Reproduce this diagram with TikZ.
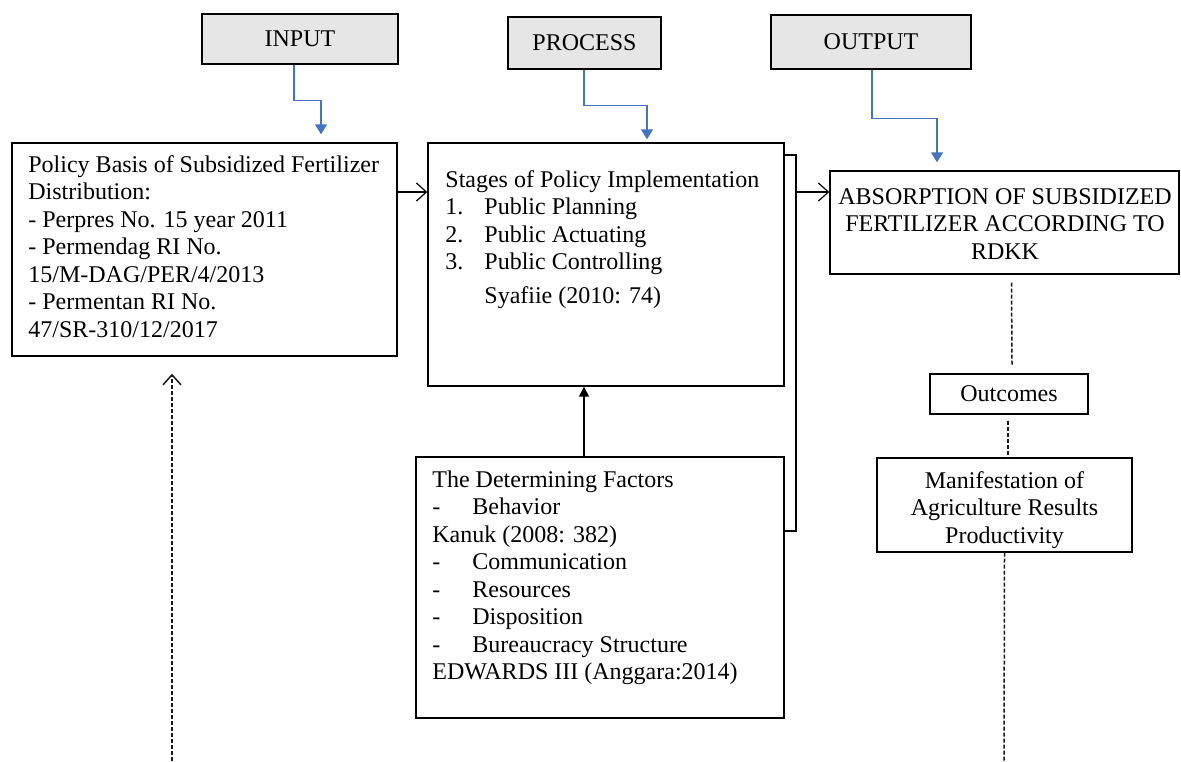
\documentclass[tikz,border=0pt]{standalone}
\usepackage{fontspec}
\setmainfont{Liberation Serif}
\usetikzlibrary{arrows.meta}
\definecolor{hdrgray}{RGB}{231,230,230}
\definecolor{conblue}{RGB}{68,114,196}
\tikzset{
  box/.style={draw=black, line width=0.7pt, inner sep=0pt, font=\fontsize{12}{13.75}\selectfont},
  hdr/.style={box, fill=hdrgray},
  txt/.style={inner sep=0pt, font=\fontsize{12}{13.75}\selectfont},
  blueconn/.style={draw=conblue, line width=0.7pt, -{Triangle[width=6pt,length=5pt]}},
  openarr/.style={-{Straight Barb[length=5pt,width=9pt]}, line width=0.6pt},
  solidarr/.style={-{Triangle[width=5pt,length=5pt]}, line width=0.7pt},
  dotline/.style={dash pattern=on 2pt off 1pt, line width=0.75pt, draw=black!90},
}
\begin{document}
\begin{tikzpicture}[x=0.5pt, y=-0.5pt]
\useasboundingbox (0,0) rectangle (1181,761);
% header boxes
\node[hdr, minimum width=98pt, minimum height=25pt] (in) at (300,39) {INPUT};
\node[hdr, minimum width=76.5pt, minimum height=26pt] (pr) at (584.5,43) {PROCESS};
\node[hdr, minimum width=100pt, minimum height=27pt] (ou) at (871,42) {OUTPUT};
% main boxes
\node[box, minimum width=192.5pt, minimum height=106.5pt] (left) at (204.5,249.5) {};
\node[box, minimum width=178pt, minimum height=121.5pt] (proc) at (606,264.5) {};
\node[box, minimum width=184pt, minimum height=130.5pt] (fac) at (600,587.5) {};
\node[box, minimum width=174.5pt, minimum height=51.5pt] (abs) at (1004.5,222.5) {};
\node[box, minimum width=79pt, minimum height=20pt] (outc) at (1009,394) {Outcomes};
\node[box, minimum width=127.5pt, minimum height=47pt] (man) at (1004.5,505) {};
% texts
\node[txt, anchor=base west] (leftT) at (28,172) {\begin{tabular}[t]{@{}l@{}}
Policy Basis of Subsidized Fertilizer\\
Distribution:\\
- Perpres No. 15 year 2011\\
- Permendag RI No.\\
15/M-DAG/PER/4/2013\\
- Permentan RI No.\\
47/SR-310/12/2017
\end{tabular}};
\node[txt, anchor=base west] (procT) at (445,187) {\begin{tabular}[t]{@{}l@{}}
Stages of Policy Implementation\\
\makebox[19.5pt][l]{1.}Public Planning\\
\makebox[19.5pt][l]{2.}Public Actuating\\
\makebox[19.5pt][l]{3.}Public Controlling\\[3.25pt]
\hspace*{19.5pt}Syafiie (2010: 74)
\end{tabular}};
\node[txt, anchor=base west] (facT) at (432,487) {\begin{tabular}[t]{@{}l@{}}
The Determining Factors\\
\makebox[20pt][l]{-}Behavior\\
Kanuk (2008: 382)\\
\makebox[20pt][l]{-}Communication\\
\makebox[20pt][l]{-}Resources\\
\makebox[20pt][l]{-}Disposition\\
\makebox[20pt][l]{-}Bureaucracy Structure\\
EDWARDS III (Anggara:2014)
\end{tabular}};
\node[txt, anchor=base] (absT) at (1005,204) {\begin{tabular}[t]{@{}c@{}}
ABSORPTION OF SUBSIDIZED\\
FERTILIZER ACCORDING TO\\
RDKK
\end{tabular}};
\node[txt, anchor=base] (manT) at (1004.5,488) {\begin{tabular}[t]{@{}c@{}}
Manifestation of\\
Agriculture Results\\
Productivity
\end{tabular}};
% blue connectors
\draw[blueconn, shorten >=4pt] ([xshift=-3pt]in.south) -- ++(0,36) -| ([xshift=58.25pt]left.north);
\draw[blueconn, shorten >=1.5pt] ([xshift=-0.25pt]pr.south) -- ++(0,36) -| ([xshift=20.5pt]proc.north);
\draw[blueconn, shorten >=4pt] ([xshift=0.5pt]ou.south) -- ++(0,49) -| ([xshift=-33.75pt]abs.north);
% left -> process
\draw[openarr] ([yshift=28.75pt]left.east) coordinate (a1) -- (proc.west |- a1);
% bracket
\coordinate (brk) at (796,0);
\coordinate (pE) at ([yshift=54.75pt]proc.east);
\coordinate (fE) at ([yshift=28.25pt]fac.east);
\draw[line width=0.7pt] (pE) -- (pE -| brk) -- (fE -| brk) -- (fE);
\coordinate (aW) at ([yshift=15.25pt]abs.west);
\draw[openarr] (aW -| brk) -- (aW);
% factors -> process
\draw[solidarr] ([xshift=-8pt]fac.north) coordinate (f1) -- (proc.south -| f1);
% dotted lines on the right
\draw[dotline] ([xshift=3.5pt,yshift=-4pt]abs.south) -- ([xshift=1.5pt,yshift=4pt]outc.north);
\draw[dotline] ([xshift=-0.5pt,yshift=-3pt]outc.south) -- ([xshift=1.75pt]man.north);
\coordinate (mb) at (1004,761);
\draw[dotline] (man.south) -- (mb);
% dotted arrow on the left
\coordinate (lb) at (172,761);
\draw[dotline, openarr, line width=0.75pt] (lb) -- ([xshift=-16.25pt,yshift=-8.5pt]left.south);
\end{tikzpicture}
\end{document}
